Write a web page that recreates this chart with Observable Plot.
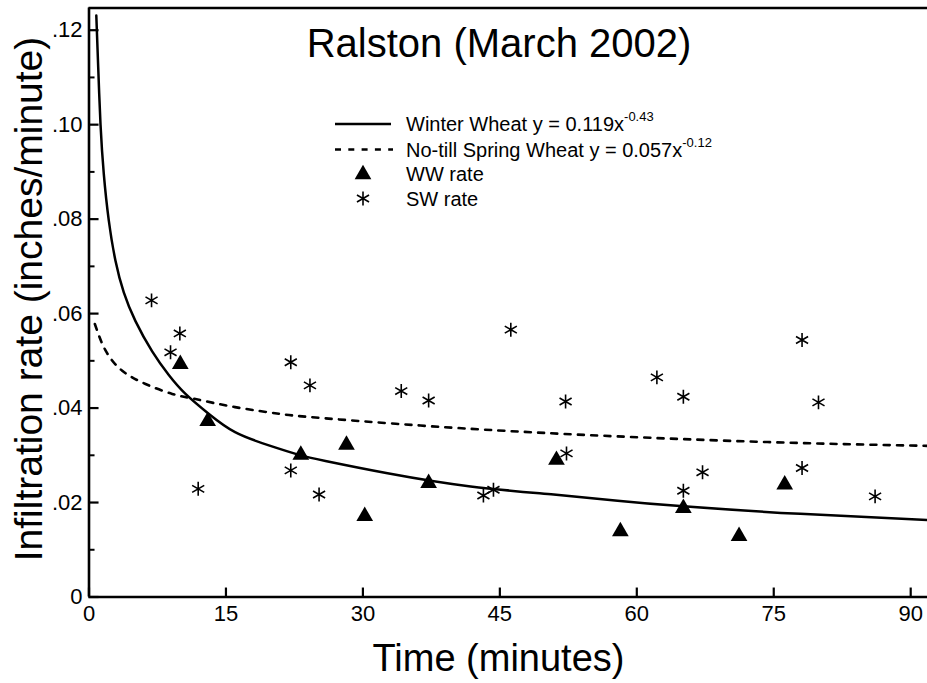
<!DOCTYPE html>
<html>
<head>
<meta charset="utf-8">
<script src="https://cdn.jsdelivr.net/npm/d3@7"></script>
<script src="https://cdn.jsdelivr.net/npm/@observablehq/plot@0.6"></script>
<style>
  html, body { margin: 0; padding: 0; background: #fff; }
  #wrap { position: relative; width: 927px; height: 683px; font-family: "Liberation Sans", Arial, Helvetica, sans-serif; }
  #wrap > svg.overlay { position: absolute; left: 0; top: 0; pointer-events: none; }
</style>
</head>
<body>
<div id="wrap"></div>
<script>
const wwTime = [10, 13, 23.2, 28.2, 30.2, 37.2, 51.2, 58.2, 65.1, 71.2, 76.2];
const wwRate = [0.0493, 0.0372, 0.0301, 0.0322, 0.0171, 0.0241, 0.0290, 0.0139, 0.0188, 0.0129, 0.0238];

const swTime = [6.85, 8.93, 9.95, 11.96, 22.1, 24.2, 22.1, 25.2, 34.2, 37.2, 46.2, 43.2, 44.3, 52.2, 52.3, 62.2, 65.1, 67.2, 65.1, 78.1, 78.1, 79.9, 86.1];
const swRate = [0.0628, 0.0518, 0.0558, 0.0229, 0.0497, 0.0448, 0.0268, 0.0217, 0.0436, 0.0416, 0.0566, 0.0215, 0.0227, 0.0414, 0.0304, 0.0465, 0.0424, 0.0264, 0.0225, 0.0544, 0.0273, 0.0412, 0.0213];

// Fitted curves
const wwFitTime = [0.8, 1.01, 1.26, 1.62, 2.17, 2.90, 3.81, 5.09, 6.92, 8.74, 10.57, 13.1, 16.0, 19.7, 23.0, 25.9, 32.7, 41.8, 50.9, 57.9, 65.1, 77.9, 91.8];
const wwFitRate = [0.1231, 0.1121, 0.1001, 0.0896, 0.0797, 0.0712, 0.0645, 0.0584, 0.0520, 0.0470, 0.0430, 0.0388, 0.0349, 0.0321, 0.0301, 0.0288, 0.0262, 0.0234, 0.0217, 0.0204, 0.0192, 0.0176, 0.0163];

const swFitTime = [0.64, 1.81, 3.64, 6.19, 9.11, 11.66, 16.0, 20.8, 24.8, 36.3, 47.3, 57.9, 74.3, 91.8];
const swFitRate = [0.0578, 0.0522, 0.0479, 0.0451, 0.0430, 0.0419, 0.0402, 0.0388, 0.0380, 0.0363, 0.0350, 0.0340, 0.0328, 0.0320];

// ---- Axes ----
const xTicks = [0, 15, 30, 45, 60, 75, 90];
const xTickLabels = ["0", "15", "30", "45", "60", "75", "90"];
const yTicks = [0, 0.02, 0.04, 0.06, 0.08, 0.10, 0.12];
const yTickLabels = ["0", ".02", ".04", ".06", ".08", ".10", ".12"];
const yMinorTicks = [0.01, 0.03, 0.05, 0.07, 0.09, 0.11];
const xDomain = [0, 91.84];
const yDomain = [0, 0.1247];

const titleText = "Ralston (March 2002)";
const xLabel = "Time (minutes)";
const yLabel = "Infiltration rate (inches/minute)";
const legendItems = [
  {text: "Winter Wheat y = 0.119x", sup: "-0.43"},
  {text: "No-till Spring Wheat y = 0.057x", sup: "-0.12"},
  {text: "WW rate", sup: ""},
  {text: "SW rate", sup: ""}
];

const font = "Liberation Sans, Arial, Helvetica, sans-serif";
const W = 927, H = 683;
const mL = 88.5, mT = 7.5, mB = 86.5, mR = 0;

const chart = Plot.plot({
  width: W, height: H,
  marginLeft: mL, marginRight: mR, marginTop: mT, marginBottom: mB,
  style: {fontFamily: font, background: "white", color: "black", overflow: "visible"},
  x: {domain: xDomain},
  y: {domain: yDomain},
  marks: [
    Plot.axisX(xTicks, {tickSize: 0, tickPadding: 8, fontSize: 22, label: null, tickFormat: (d) => xTickLabels[xTicks.indexOf(d)]}),
    Plot.axisY(yTicks, {tickSize: 0, tickPadding: 6.5, fontSize: 22, label: null, tickFormat: (d) => yTickLabels[yTicks.indexOf(d)]}),
    // inward tick marks
    Plot.ruleY(yTicks, {x1: 0, x2: 1.1, strokeWidth: 2.2, stroke: "black"}),
    Plot.ruleY(yMinorTicks, {x1: 0, x2: 0.66, strokeWidth: 2, stroke: "black"}),
    Plot.ruleX(xTicks, {y1: 0, y2: 0.0019, strokeWidth: 2.2, stroke: "black"}),
    // axis lines / frame
    Plot.ruleX([xDomain[0]], {strokeWidth: 2.6, stroke: "black"}),
    Plot.ruleY([yDomain[0]], {strokeWidth: 2.6, stroke: "black"}),
    Plot.ruleY([yDomain[1]], {strokeWidth: 2.6, stroke: "black"}),
    // fitted curves
    Plot.line(wwFitRate, {x: wwFitTime, y: wwFitRate, curve: "natural", stroke: "black", strokeWidth: 2.5}),
    Plot.line(swFitRate, {x: swFitTime, y: swFitRate, curve: "natural", stroke: "black", strokeWidth: 2.6, strokeDasharray: "6,7.3"}),
    // observations
    Plot.dot(wwRate, {x: wwTime, y: wwRate, symbol: "triangle", fill: "black", stroke: "none", r: 6.2}),
    Plot.dot(swRate, {x: swTime, y: swRate, symbol: "asterisk", stroke: "black", strokeWidth: 1.6, fill: "none", r: 6.6})
  ]
});

const wrap = document.getElementById("wrap");
wrap.appendChild(chart);

// ---- Overlay: title, axis titles, legend ----
const ns = "http://www.w3.org/2000/svg";
const ov = d3.select(wrap).append("svg")
  .attr("class", "overlay").attr("xmlns", ns)
  .attr("width", W).attr("height", H)
  .style("font-family", font);

ov.append("text").attr("x", 499).attr("y", 57).attr("text-anchor", "middle")
  .attr("font-size", 40).text(titleText);

ov.append("text").attr("x", 498.5).attr("y", 671).attr("text-anchor", "middle")
  .attr("font-size", 38).text(xLabel);

ov.append("text").attr("transform", "translate(41.7,299) rotate(-90)").attr("text-anchor", "middle")
  .attr("font-size", 39).text(yLabel);

// legend
const lg = ov.append("g");
const rowY = [124, 149.5, 173.5, 198.5];
const textX = 406;
lg.append("line").attr("x1", 335).attr("x2", 391).attr("y1", rowY[0]).attr("y2", rowY[0])
  .attr("stroke", "black").attr("stroke-width", 2.5);
lg.append("line").attr("x1", 335).attr("x2", 393).attr("y1", rowY[1]).attr("y2", rowY[1])
  .attr("stroke", "black").attr("stroke-width", 2.6).attr("stroke-dasharray", "6,7.3");
lg.append("path").attr("transform", `translate(363,${rowY[2] + 1})`)
  .attr("d", d3.symbol(d3.symbolTriangle, Math.PI * 6.2 * 6.2)()).attr("fill", "black");
lg.append("path").attr("transform", `translate(363,${rowY[3]})`)
  .attr("d", d3.symbol(d3.symbolAsterisk, Math.PI * 6.6 * 6.6)()).attr("fill", "none")
  .attr("stroke", "black").attr("stroke-width", 1.6);

legendItems.forEach((it, i) => {
  const t = lg.append("text").attr("x", textX).attr("y", rowY[i] + 7).attr("font-size", 20);
  t.append("tspan").text(it.text);
  if (it.sup) {
    t.append("tspan").attr("font-size", 13).attr("dy", -10).text(it.sup);
  }
});
</script>
</body>
</html>
